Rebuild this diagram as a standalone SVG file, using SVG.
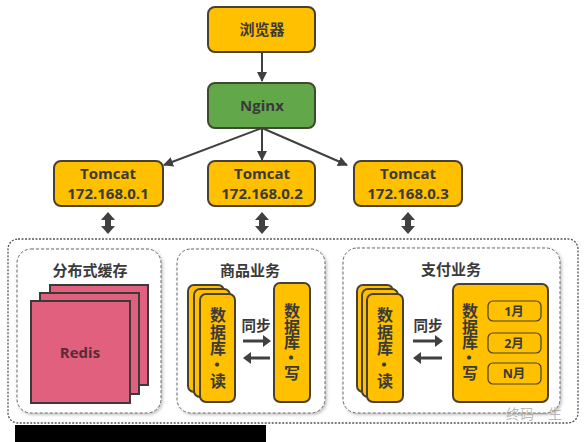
<svg xmlns="http://www.w3.org/2000/svg" width="584" height="442" viewBox="0 0 584 442">
<defs>
<style>
.box{fill:#FFC000;stroke:#4a4030;stroke-width:2}
.t{font-family:"Noto Sans CJK SC","Noto Sans",sans-serif;font-weight:bold;fill:#3a3a3a;text-anchor:middle}
.v{font-family:"Noto Sans CJK SC","Noto Sans",sans-serif;font-weight:bold;fill:#3a3a3a;writing-mode:vertical-rl;font-size:16px}
.lt{font-family:"Open Sans","Noto Sans CJK SC",sans-serif;font-weight:bold;fill:#3a3a3a;text-anchor:middle}
.ln{stroke:#404040;stroke-width:2;fill:none}
.grp{fill:#fff;stroke:#666;stroke-width:1;stroke-dasharray:3 2}
.redis{fill:#E0607E;stroke:#3a3a3a;stroke-width:2}
.sub{fill:#FFC000;stroke:#4a4030;stroke-width:1.2}
</style>
<marker id="ah" viewBox="0 0 10 10" refX="9" refY="5" markerWidth="5" markerHeight="5" orient="auto"><path d="M0,0L10,5L0,10z" fill="#404040"/></marker>
<filter id="sh" x="-10%" y="-10%" width="130%" height="130%"><feDropShadow dx="1.5" dy="1.5" stdDeviation="1.5" flood-color="#000" flood-opacity="0.25"/></filter>
</defs>
<rect width="584" height="442" fill="#fff"/>

<g id="outer">
<rect x="8" y="239" width="570" height="184" rx="10" fill="none" stroke="#555" stroke-width="1.3" stroke-dasharray="2 1.5"/>
</g>

<g id="browser">
<rect class="box" x="208" y="7" width="107" height="45" rx="7"/>
<text class="t" x="262" y="35" font-size="15">浏览器</text>
</g>
<g id="nginx">
<rect x="208" y="83" width="107" height="45" rx="7" fill="#62A84A" stroke="#3c4a30" stroke-width="2"/>
<text class="lt" x="262" y="111" font-size="15">Nginx</text>
</g>
<g id="tomcat1">
<rect class="box" x="54" y="161" width="109" height="45" rx="7"/>
<text class="lt" x="108" y="179" font-size="15">Tomcat</text>
<text class="lt" x="108" y="199" font-size="15">172.168.0.1</text>
</g>
<g id="tomcat2">
<rect class="box" x="208" y="161" width="107" height="45" rx="7"/>
<text class="lt" x="262" y="179" font-size="15">Tomcat</text>
<text class="lt" x="262" y="199" font-size="15">172.168.0.2</text>
</g>
<g id="tomcat3">
<rect class="box" x="354" y="161" width="108" height="45" rx="7"/>
<text class="lt" x="408" y="179" font-size="15">Tomcat</text>
<text class="lt" x="408" y="199" font-size="15">172.168.0.3</text>
</g>

<g id="cache">
<rect class="grp" x="17" y="249" width="144" height="164" rx="14" filter="url(#sh)"/>
<text class="t" x="90" y="276" font-size="15">分布式缓存</text>
<rect class="redis" x="50" y="285" width="98" height="100"/>
<rect class="redis" x="40" y="293" width="99" height="101"/>
<rect class="redis" x="31" y="301" width="99" height="102"/>
<text class="lt" x="80" y="358" font-size="15" style="fill:#5a2a38">Redis</text>
</g>

<g id="goods">
<rect class="grp" x="177" y="249" width="148" height="164" rx="14" filter="url(#sh)"/>
<text class="t" x="250" y="276" font-size="15">商品业务</text>
<rect class="box" x="188" y="285" width="36" height="107" rx="6"/>
<rect class="box" x="194" y="289" width="36" height="108" rx="6"/>
<rect class="box" x="200" y="294" width="35" height="108" rx="6"/>
<text class="v" x="218" y="307" letter-spacing="0.5">数据库·读</text>
<text class="t" x="256" y="331" font-size="14.5">同步</text>
<rect class="box" x="274" y="283" width="36" height="119" rx="6"/>
<text class="v" x="292" y="303" letter-spacing="-0.5">数据库·写</text>
</g>

<g id="pay">
<rect class="grp" x="343" y="248" width="217" height="165" rx="14" filter="url(#sh)"/>
<text class="t" x="451" y="275" font-size="15">支付业务</text>
<rect class="box" x="357" y="285" width="36" height="107" rx="6"/>
<rect class="box" x="362" y="289" width="36" height="108" rx="6"/>
<rect class="box" x="367" y="294" width="36" height="108" rx="6"/>
<text class="v" x="385" y="307" letter-spacing="0.5">数据库·读</text>
<text class="t" x="428" y="331" font-size="14.5">同步</text>
<rect class="box" x="453" y="284" width="95" height="118" rx="6"/>
<text class="v" x="470" y="303" letter-spacing="-0.5">数据库·写</text>
<rect class="sub" x="488" y="301" width="53" height="20" rx="5"/>
<text class="lt" x="514" y="316" font-size="12.5">1月</text>
<rect class="sub" x="488" y="333" width="53" height="20" rx="5"/>
<text class="lt" x="514" y="348" font-size="12.5">2月</text>
<rect class="sub" x="488" y="363" width="53" height="21" rx="5"/>
<text class="lt" x="514" y="378" font-size="12.5">N月</text>
</g>

<g id="connectors">
<line class="ln" x1="262" y1="52" x2="262" y2="81" marker-end="url(#ah)"/>
<line class="ln" x1="262" y1="128" x2="164" y2="165" marker-end="url(#ah)"/>
<line class="ln" x1="262" y1="128" x2="262" y2="160" marker-end="url(#ah)"/>
<line class="ln" x1="262" y1="128" x2="347" y2="165" marker-end="url(#ah)"/>
<path d="M108,212L115,220L111,220L111,226L115,226L108,234L101,226L105,226L105,220L101,220z" fill="#404040"/>
<path d="M262,212L269,220L265,220L265,226L269,226L262,234L255,226L259,226L259,220L255,220z" fill="#404040"/>
<path d="M408,212L415,220L411,220L411,226L415,226L408,234L401,226L405,226L405,220L401,220z" fill="#404040"/>
<path d="M243,339.5L263,339.5L263,335L271,341L263,347L263,342.5L243,342.5z" fill="#404040"/>
<path d="M270,356.5L251,356.5L251,352L243,358L251,364L251,359.5L270,359.5z" fill="#404040"/>
<path d="M413,339.5L435,339.5L435,335L443,341L435,347L435,342.5L413,342.5z" fill="#404040"/>
<path d="M442,356.5L421,356.5L421,352L413,358L421,364L421,359.5L442,359.5z" fill="#404040"/>
</g>

<text x="534" y="419" font-family="Noto Sans CJK SC,sans-serif" font-size="14" fill="#9a9a9a" fill-opacity="0.7" text-anchor="middle">终码一生</text>
<rect x="15" y="425" width="251" height="17" fill="#000"/>
</svg>
